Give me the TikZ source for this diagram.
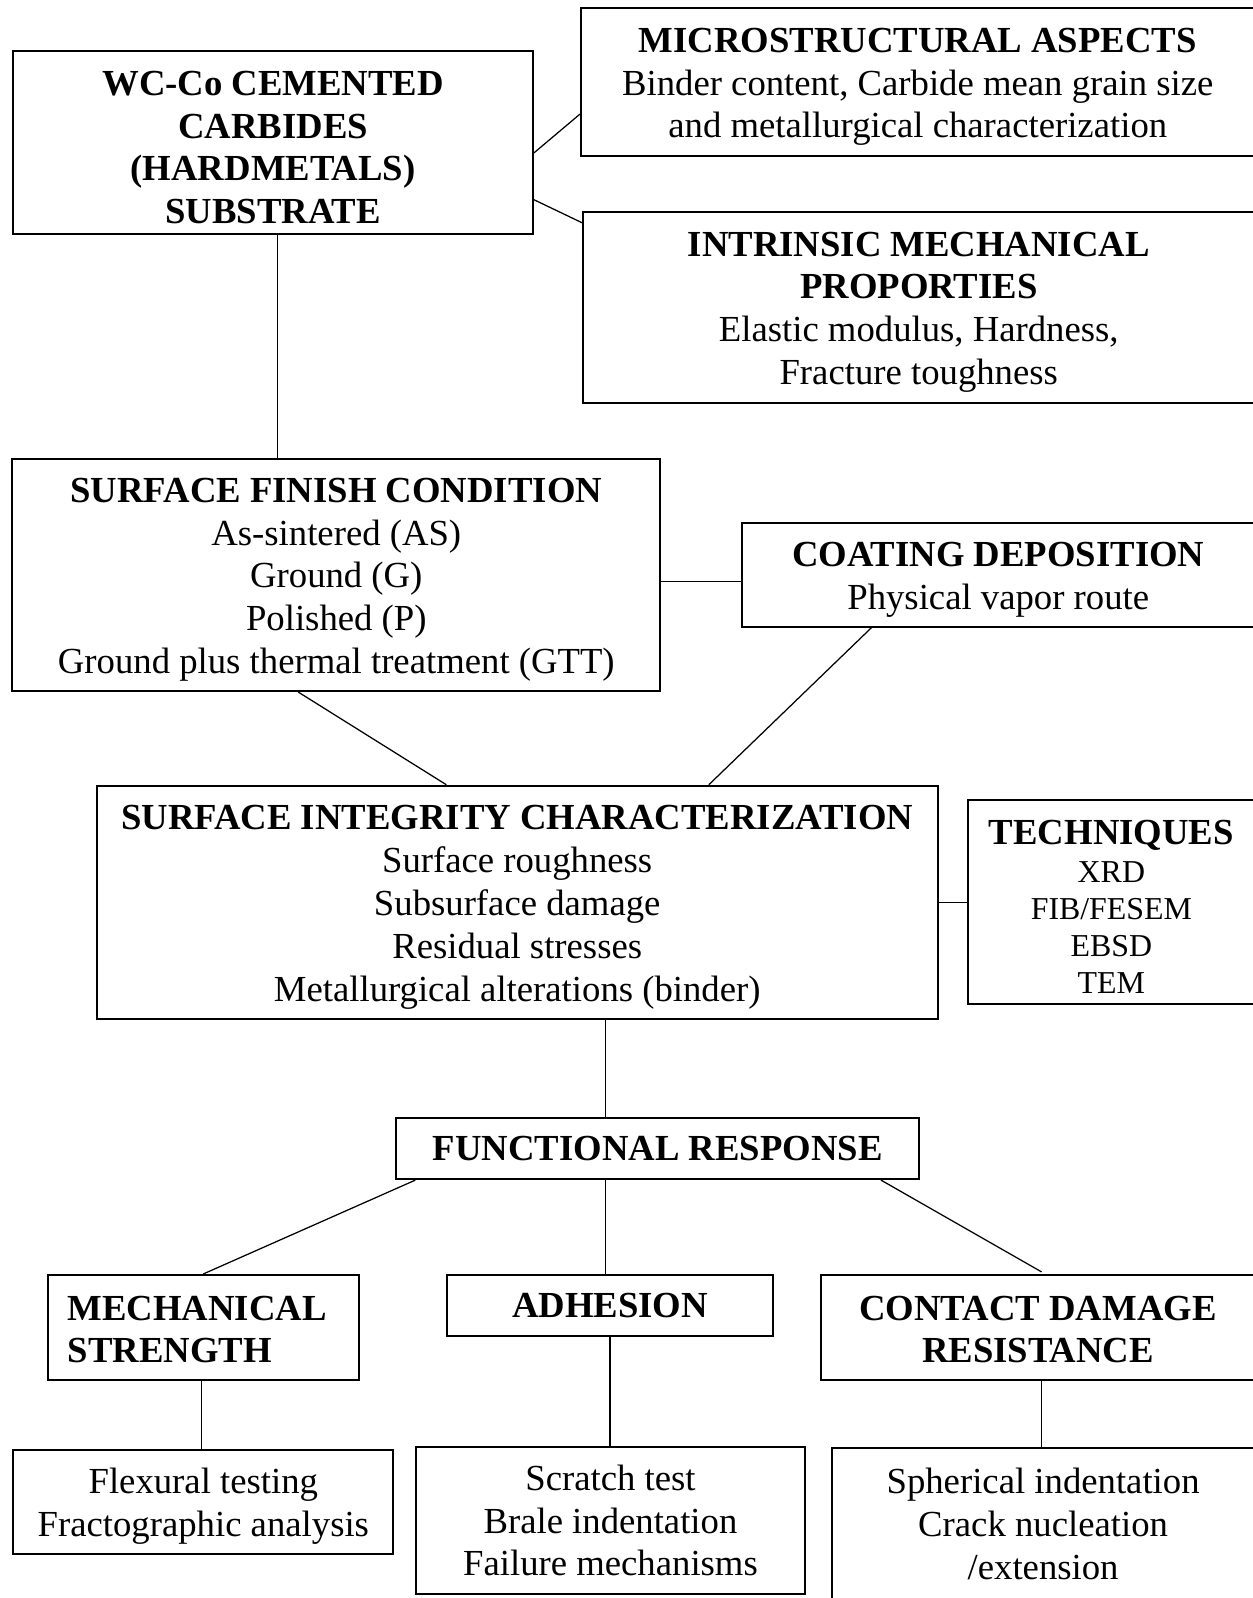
\documentclass[tikz,border=0pt]{standalone}
\usepackage{fontspec}
\setmainfont{Liberation Serif}
\usetikzlibrary{positioning}
\newcommand{\lowstrut}{\rule{0pt}{19pt}}
\tikzset{every node/.style={font=\fontsize{20.5}{23.9}\selectfont, inner sep=0pt},
  box/.style={draw, line width=1.1pt, align=center},
  link/.style={line width=0.7pt}}

\begin{document}
\begin{tikzpicture}
  \useasboundingbox (0,0) rectangle (24.58,-31.36);
  \node[box, minimum width=10.2cm, minimum height=3.6cm] (sub) at (5.36,-2.80)
    {\lowstrut\textbf{WC-Co CEMENTED}\\\textbf{CARBIDES}\\\textbf{(HARDMETALS)}\\\textbf{SUBSTRATE}};
  \node[box, minimum width=13.22cm, minimum height=2.9cm] (micro) at (18.01,-1.61)
    {\lowstrut\textbf{MICROSTRUCTURAL ASPECTS}\\Binder content, Carbide mean grain size\\and metallurgical characterization};
  \node[box, minimum width=13.18cm, minimum height=3.74cm] (intr) at (18.03,-6.03)
    {\lowstrut\textbf{INTRINSIC MECHANICAL}\\\textbf{PROPORTIES}\\Elastic modulus, Hardness,\\Fracture toughness};
  \node[box, minimum width=12.72cm, minimum height=4.56cm] (finish) at (6.60,-11.28)
    {\lowstrut\textbf{SURFACE FINISH CONDITION}\\As-sintered (AS)\\Ground (G)\\Polished (P)\\Ground plus thermal treatment (GTT)};
  \node[box, minimum width=10.06cm, minimum height=2.04cm] (coat) at (19.59,-11.28)
    {\lowstrut\textbf{COATING DEPOSITION}\\Physical vapor route};
  \node[box, minimum width=16.5cm, minimum height=4.58cm] (integ) at (10.15,-17.71)
    {\lowstrut\textbf{SURFACE INTEGRITY CHARACTERIZATION}\\Surface roughness\\Subsurface damage\\Residual stresses\\Metallurgical alterations (binder)};
  \node[box, minimum width=5.62cm, minimum height=4.0cm, font=\fontsize{17.8}{20.6}\selectfont] (tech) at (21.81,-17.70)
    {\lowstrut{\fontsize{20.5}{23.9}\selectfont\bfseries TECHNIQUES}\\[1pt]XRD\\FIB/FESEM\\EBSD\\TEM};
  \node[box, minimum width=10.26cm, minimum height=1.2cm] (func) at (12.91,-22.54)
    {\textbf{FUNCTIONAL RESPONSE}};
  \node[box, align=left, minimum width=6.1cm, minimum height=2.06cm] (mech) at (3.99,-26.05)
    {\rule{0pt}{16pt}\textbf{MECHANICAL}\hspace*{0.24cm}\\\textbf{STRENGTH}};
  \node[box, minimum width=6.38cm, minimum height=1.2cm] (adh) at (11.97,-25.62)
    {\textbf{ADHESION}};
  \node[box, minimum width=8.5cm, minimum height=2.06cm] (contact) at (20.37,-26.05)
    {\rule{0pt}{16pt}\textbf{CONTACT DAMAGE}\\\textbf{RESISTANCE}};
  \node[box, minimum width=7.46cm, minimum height=2.04cm] (flex) at (3.99,-29.48)
    {\lowstrut Flexural testing\\Fractographic analysis};
  \node[box, minimum width=7.64cm, minimum height=2.88cm] (scratch) at (11.98,-29.84)
    {Scratch test\\Brale indentation\\Failure mechanisms};
  \node[box, minimum width=8.3cm, minimum height=3.0cm] (spher) at (20.47,-29.91)
    {Spherical indentation\\Crack nucleation\\/extension};

  \draw[link] ([yshift=-0.2cm]sub.east) -- ([yshift=-0.63cm]micro.west);
  \draw[link] ([yshift=-1.12cm]sub.east) -- ([yshift=-0.23cm]intr.north west);
  \draw[link] ([xshift=0.09cm]sub.south) -- ([xshift=0.09cm]sub.south |- finish.north);
  \draw[link] ([yshift=-0.13cm]finish.east) -- ([yshift=-0.13cm]finish.east -| coat.west);
  \draw[link] ([xshift=-0.75cm]finish.south) -- ([xshift=-1.39cm]integ.north);
  \draw[link] ([xshift=-2.49cm]coat.south) -- ([xshift=3.76cm]integ.north);
  \draw[link] (integ.east) -- (integ.east -| tech.west);
  \draw[link] ([xshift=1.73cm]integ.south) -- ([xshift=1.73cm]integ.south |- func.north);
  \draw[link] ([xshift=-4.76cm]func.south) -- (mech.north);
  \draw[link] ([xshift=-1.03cm]func.south) -- ([xshift=-1.03cm]func.south |- adh.north);
  \draw[link] ([xshift=4.38cm]func.south) -- ([xshift=0.07cm,yshift=0.04cm]contact.north);
  \draw[link] ([xshift=-0.03cm]mech.south) -- ([xshift=-0.03cm]mech.south |- flex.north);
  \draw[link] (adh.south) -- (adh.south |- scratch.north);
  \draw[link] ([xshift=0.07cm]contact.south) -- ([xshift=0.07cm]contact.south |- spher.north);
\end{tikzpicture}
\end{document}
